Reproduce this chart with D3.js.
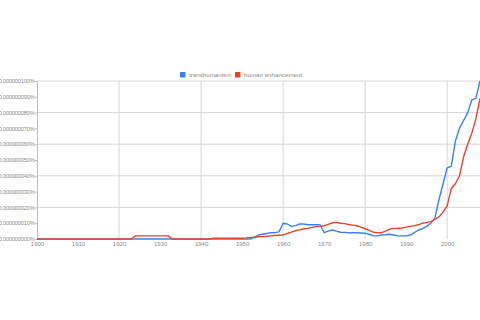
<!DOCTYPE html>
<html>
<head>
<meta charset="utf-8">
<script src="https://cdn.jsdelivr.net/npm/d3@7"></script>
<style>
  body { margin: 0; background: #fff; }
  svg { display: block; font-family: "Liberation Sans", Arial, sans-serif; }
</style>
</head>
<body>
<div class="canvas"></div>
<script>
// data, values in units of 0.000000001%
const seriesNames = ['transhumanism', 'human enhancement'];
const seriesColors = ['#3c7ff0', '#e8432c'];
const firstYear = 1900;

const transhumanism = [
    0, 0, 0, 0, 0, 0, 0, 0, 0, 0,          // 1900s
    0, 0, 0, 0, 0, 0, 0, 0, 0, 0,          // 1910s
    0, 0, 0, 0, 0, 0, 0, 0, 0, 0,          // 1920s
    0, 0, 0, 0, 0, 0, 0, 0, 0, 0,          // 1930s
    0, 0, 0, 0, 0, 0, 0, 0, 0, 0,          // 1940s
    0, 0, 0, 1, 2.5, 3, 3.5, 4, 4, 4.5,    // 1950s
    10, 9.5, 8, 8.5, 9.5, 9.5, 9, 9, 9, 9, // 1960s
    4, 5, 5.7, 5, 4.3, 4.2, 4, 4, 4, 3.8,  // 1970s
    3.6, 3, 2, 2, 2.5, 2.7, 3, 2.5, 2, 2,  // 1980s
    2, 2.5, 4, 5.7, 6.5, 8, 10, 13, 25, 35, // 1990s
    45, 46, 62, 70, 75, 80, 88, 89, 100    // 2000s
];

const humanEnhancement = [
    0, 0, 0, 0, 0, 0, 0, 0, 0, 0,
    0, 0, 0, 0, 0, 0, 0, 0, 0, 0,
    0, 0, 0, 0, 2, 2, 2, 2, 2, 2,
    2, 2, 2, 0, 0, 0, 0, 0, 0, 0,
    0, 0, 0, 0.5, 0.5, 0.5, 0.5, 0.5, 0.5, 0.5,
    0.5, 0.7, 1, 1.2, 1.4, 1.5, 1.7, 2, 2.2, 2.4,
    2.5, 3.5, 4.3, 5.2, 5.8, 6.3, 6.7, 7.3, 7.8, 8,
    8.4, 9.3, 10.3, 10.5, 10, 9.7, 9.2, 8.8, 8.4, 7.5,
    6.5, 5.5, 4.3, 4, 4, 5, 6.3, 6.7, 6.8, 7,
    7.5, 8, 8.5, 9, 10, 10.5, 11, 12.5, 14, 17,
    21, 32, 35, 40, 52, 60, 67, 76, 89
];

const xTicks = [1900, 1910, 1920, 1930, 1940, 1950, 1960, 1970, 1980, 1990, 2000];
const xGrid = [1920, 1940, 1960, 1980, 2000];
const yTicks = [0, 10, 20, 30, 40, 50, 60, 70, 80, 90, 100];
const yGrid = [20, 40, 60, 80, 100];

const width = 480, height = 320;
const margin = {top: 81, right: 0, bottom: 81, left: 37};

const svg = d3.select('.canvas')
    .append('svg')
    .attr('width', width)
    .attr('height', height);

const x = d3.scaleLinear()
    .domain([1900, 2008])
    .range([margin.left, width - margin.right]);

const y = d3.scaleLinear()
    .domain([0, 100])
    .range([height - margin.bottom, margin.top]);

// grid lines
svg.append('g').selectAll('line').data(xGrid).enter()
    .append('line')
    .attr('x1', d => x(d)).attr('x2', d => x(d))
    .attr('y1', y(0)).attr('y2', y(100))
    .attr('stroke', '#d6d6d6')
    .attr('stroke-width', 1);

svg.append('g').selectAll('line').data(yGrid).enter()
    .append('line')
    .attr('x1', x(1900)).attr('x2', width)
    .attr('y1', d => y(d)).attr('y2', d => y(d))
    .attr('stroke', '#d6d6d6')
    .attr('stroke-width', 1);

// axes
const yAxis = d3.axisLeft(y)
    .tickValues(yTicks)
    .tickSize(2)
    .tickPadding(0.5)
    .tickFormat(d => (d * 1e-9).toFixed(9) + '%');

const yAxisGroup = svg.append('g')
    .attr('transform', `translate(${margin.left}, 0)`)
    .call(yAxis);

const xAxis = d3.axisBottom(x)
    .tickValues(xTicks)
    .tickSize(0)
    .tickPadding(2.5)
    .tickFormat(d3.format('d'));

const xAxisGroup = svg.append('g')
    .attr('transform', `translate(0, ${y(0)})`)
    .call(xAxis);

[xAxisGroup, yAxisGroup].forEach(g => {
    g.select('.domain').attr('stroke', '#bdbdbd');
    g.selectAll('.tick line').attr('stroke', '#bdbdbd');
    g.selectAll('.tick text')
        .attr('fill', '#8a8a8a')
        .attr('font-size', 6)
        .attr('font-family', '"Liberation Sans", Arial, sans-serif');
});
xAxisGroup.select('.domain').attr('stroke', 'none');
yAxisGroup.selectAll('.tick text')
    .attr('font-size', 5.6)
    .attr('letter-spacing', -0.15);

// lines
const line = d3.line()
    .x((d, i) => x(firstYear + i))
    .y(d => y(d));

const allSeries = [transhumanism, humanEnhancement];

svg.append('g').selectAll('path').data(allSeries).enter()
    .append('path')
    .attr('d', d => line(d))
    .attr('fill', 'none')
    .attr('stroke', (d, i) => seriesColors[i])
    .attr('stroke-width', 1.4)
    .attr('stroke-linejoin', 'round');

// legend
const legend = svg.append('g')
    .attr('transform', 'translate(180, 72)');

const legendX = [0, 55];

const items = legend.selectAll('g').data(seriesNames).enter()
    .append('g')
    .attr('transform', (d, i) => `translate(${legendX[i]}, 0)`);

items.append('rect')
    .attr('width', 5.5)
    .attr('height', 5.5)
    .attr('fill', (d, i) => seriesColors[i]);

items.append('text')
    .attr('x', 9)
    .attr('y', 5)
    .attr('font-size', 6.2)
    .attr('fill', '#8a8a8a')
    .text(d => d);
</script>
</body>
</html>
